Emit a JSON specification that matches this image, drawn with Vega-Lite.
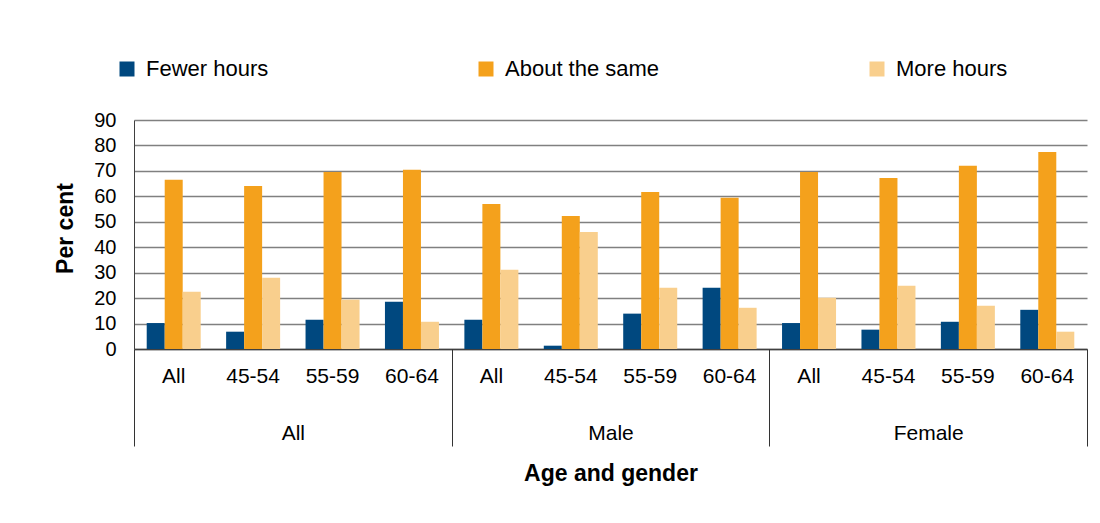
{
  "$schema": "https://vega.github.io/schema/vega-lite/v6.json",
  "width": 953,
  "height": 229,
  "autosize": {"type": "none"},
  "padding": {"left": 134, "top": 120, "right": 13, "bottom": 174},
  "config": {
    "view": {"stroke": null},
    "font": "Liberation Sans",
    "axis": {"labelColor": "black", "titleColor": "black"},
    "legend": {"labelColor": "black"}
  },
  "layer": [
    {
      "data": {
        "values": [
          {"category": "All|All", "series": "Fewer hours", "percent": 10.2},
          {"category": "All|All", "series": "About the same", "percent": 66.5},
          {"category": "All|All", "series": "More hours", "percent": 22.5},
          {"category": "All|45-54", "series": "Fewer hours", "percent": 6.8},
          {"category": "All|45-54", "series": "About the same", "percent": 64.1},
          {"category": "All|45-54", "series": "More hours", "percent": 28.0},
          {"category": "All|55-59", "series": "Fewer hours", "percent": 11.5},
          {"category": "All|55-59", "series": "About the same", "percent": 69.6},
          {"category": "All|55-59", "series": "More hours", "percent": 19.4},
          {"category": "All|60-64", "series": "Fewer hours", "percent": 18.6},
          {"category": "All|60-64", "series": "About the same", "percent": 70.4},
          {"category": "All|60-64", "series": "More hours", "percent": 10.7},
          {"category": "Male|All", "series": "Fewer hours", "percent": 11.5},
          {"category": "Male|All", "series": "About the same", "percent": 57.0},
          {"category": "Male|All", "series": "More hours", "percent": 31.1},
          {"category": "Male|45-54", "series": "Fewer hours", "percent": 1.3},
          {"category": "Male|45-54", "series": "About the same", "percent": 52.3},
          {"category": "Male|45-54", "series": "More hours", "percent": 46.0},
          {"category": "Male|55-59", "series": "Fewer hours", "percent": 13.9},
          {"category": "Male|55-59", "series": "About the same", "percent": 61.7},
          {"category": "Male|55-59", "series": "More hours", "percent": 24.1},
          {"category": "Male|60-64", "series": "Fewer hours", "percent": 24.1},
          {"category": "Male|60-64", "series": "About the same", "percent": 59.4},
          {"category": "Male|60-64", "series": "More hours", "percent": 16.2},
          {"category": "Female|All", "series": "Fewer hours", "percent": 10.2},
          {"category": "Female|All", "series": "About the same", "percent": 69.6},
          {"category": "Female|All", "series": "More hours", "percent": 20.1},
          {"category": "Female|45-54", "series": "Fewer hours", "percent": 7.6},
          {"category": "Female|45-54", "series": "About the same", "percent": 67.2},
          {"category": "Female|45-54", "series": "More hours", "percent": 24.9},
          {"category": "Female|55-59", "series": "Fewer hours", "percent": 10.7},
          {"category": "Female|55-59", "series": "About the same", "percent": 72.0},
          {"category": "Female|55-59", "series": "More hours", "percent": 17.0},
          {"category": "Female|60-64", "series": "Fewer hours", "percent": 15.4},
          {"category": "Female|60-64", "series": "About the same", "percent": 77.4},
          {"category": "Female|60-64", "series": "More hours", "percent": 6.8}
        ]
      },
      "mark": {"type": "bar"},
      "encoding": {
        "x": {
          "field": "category",
          "type": "nominal",
          "sort": null,
          "scale": {"paddingInner": 0.32, "paddingOuter": 0.16},
          "axis": {
            "title": null,
            "labelExpr": "split(datum.value, '|')[1]",
            "labelAngle": 0,
            "ticks": false,
            "labelPadding": 16,
            "labelFontSize": 21,
            "labelBaseline": "top",
            "domainColor": "#404040",
            "domainWidth": 1.5
          }
        },
        "xOffset": {
          "field": "series",
          "type": "nominal",
          "sort": ["Fewer hours", "About the same", "More hours"],
          "scale": {"paddingInner": 0, "paddingOuter": 0}
        },
        "y": {
          "field": "percent",
          "type": "quantitative",
          "scale": {"domain": [0, 90]},
          "axis": {
            "title": "Per cent",
            "values": [0, 10, 20, 30, 40, 50, 60, 70, 80, 90],
            "labelOverlap": false,
            "grid": true,
            "gridColor": "#808080",
            "gridWidth": 1.5,
            "ticks": false,
            "labelPadding": 18,
            "labelFontSize": 20,
            "domainColor": "#404040",
            "titleFontSize": 23,
            "titleFontWeight": "bold",
            "titleX": -69,
            "titleY": 108,
            "titleAngle": 270,
            "titleBaseline": "middle",
            "titleAlign": "center"
          }
        },
        "color": {
          "field": "series",
          "type": "nominal",
          "scale": {
            "domain": ["Fewer hours", "About the same", "More hours"],
            "range": ["#00487F", "#F4A11C", "#F9CF8D"]
          },
          "legend": {
            "orient": "none",
            "legendX": -18,
            "legendY": -62,
            "direction": "horizontal",
            "title": null,
            "symbolType": "square",
            "symbolSize": 225,
            "symbolStrokeWidth": 0,
            "symbolOpacity": 1,
            "labelFontSize": 22,
            "labelOffset": 8,
            "columnPadding": 206,
            "labelLimit": 400
          }
        }
      }
    },
    {
      "data": {"values": [{"gender": "All"}, {"gender": "Male"}, {"gender": "Female"}]},
      "mark": {"type": "text", "text": ""},
      "encoding": {
        "x": {
          "field": "gender",
          "type": "nominal",
          "sort": null,
          "scale": {"paddingInner": 0, "paddingOuter": 0},
          "axis": {
            "orient": "bottom",
            "title": "Age and gender",
            "tickBand": "extent",
            "tickSize": 97,
            "tickColor": "#333333",
            "domain": false,
            "labelPadding": -24,
            "labelAngle": 0,
            "labelFontSize": 21,
            "labelBaseline": "top",
            "titleFontSize": 23,
            "titleFontWeight": "bold",
            "titleY": 124,
            "titleBaseline": "middle"
          }
        }
      }
    }
  ],
  "resolve": {"scale": {"x": "independent"}, "axis": {"x": "independent"}}
}
